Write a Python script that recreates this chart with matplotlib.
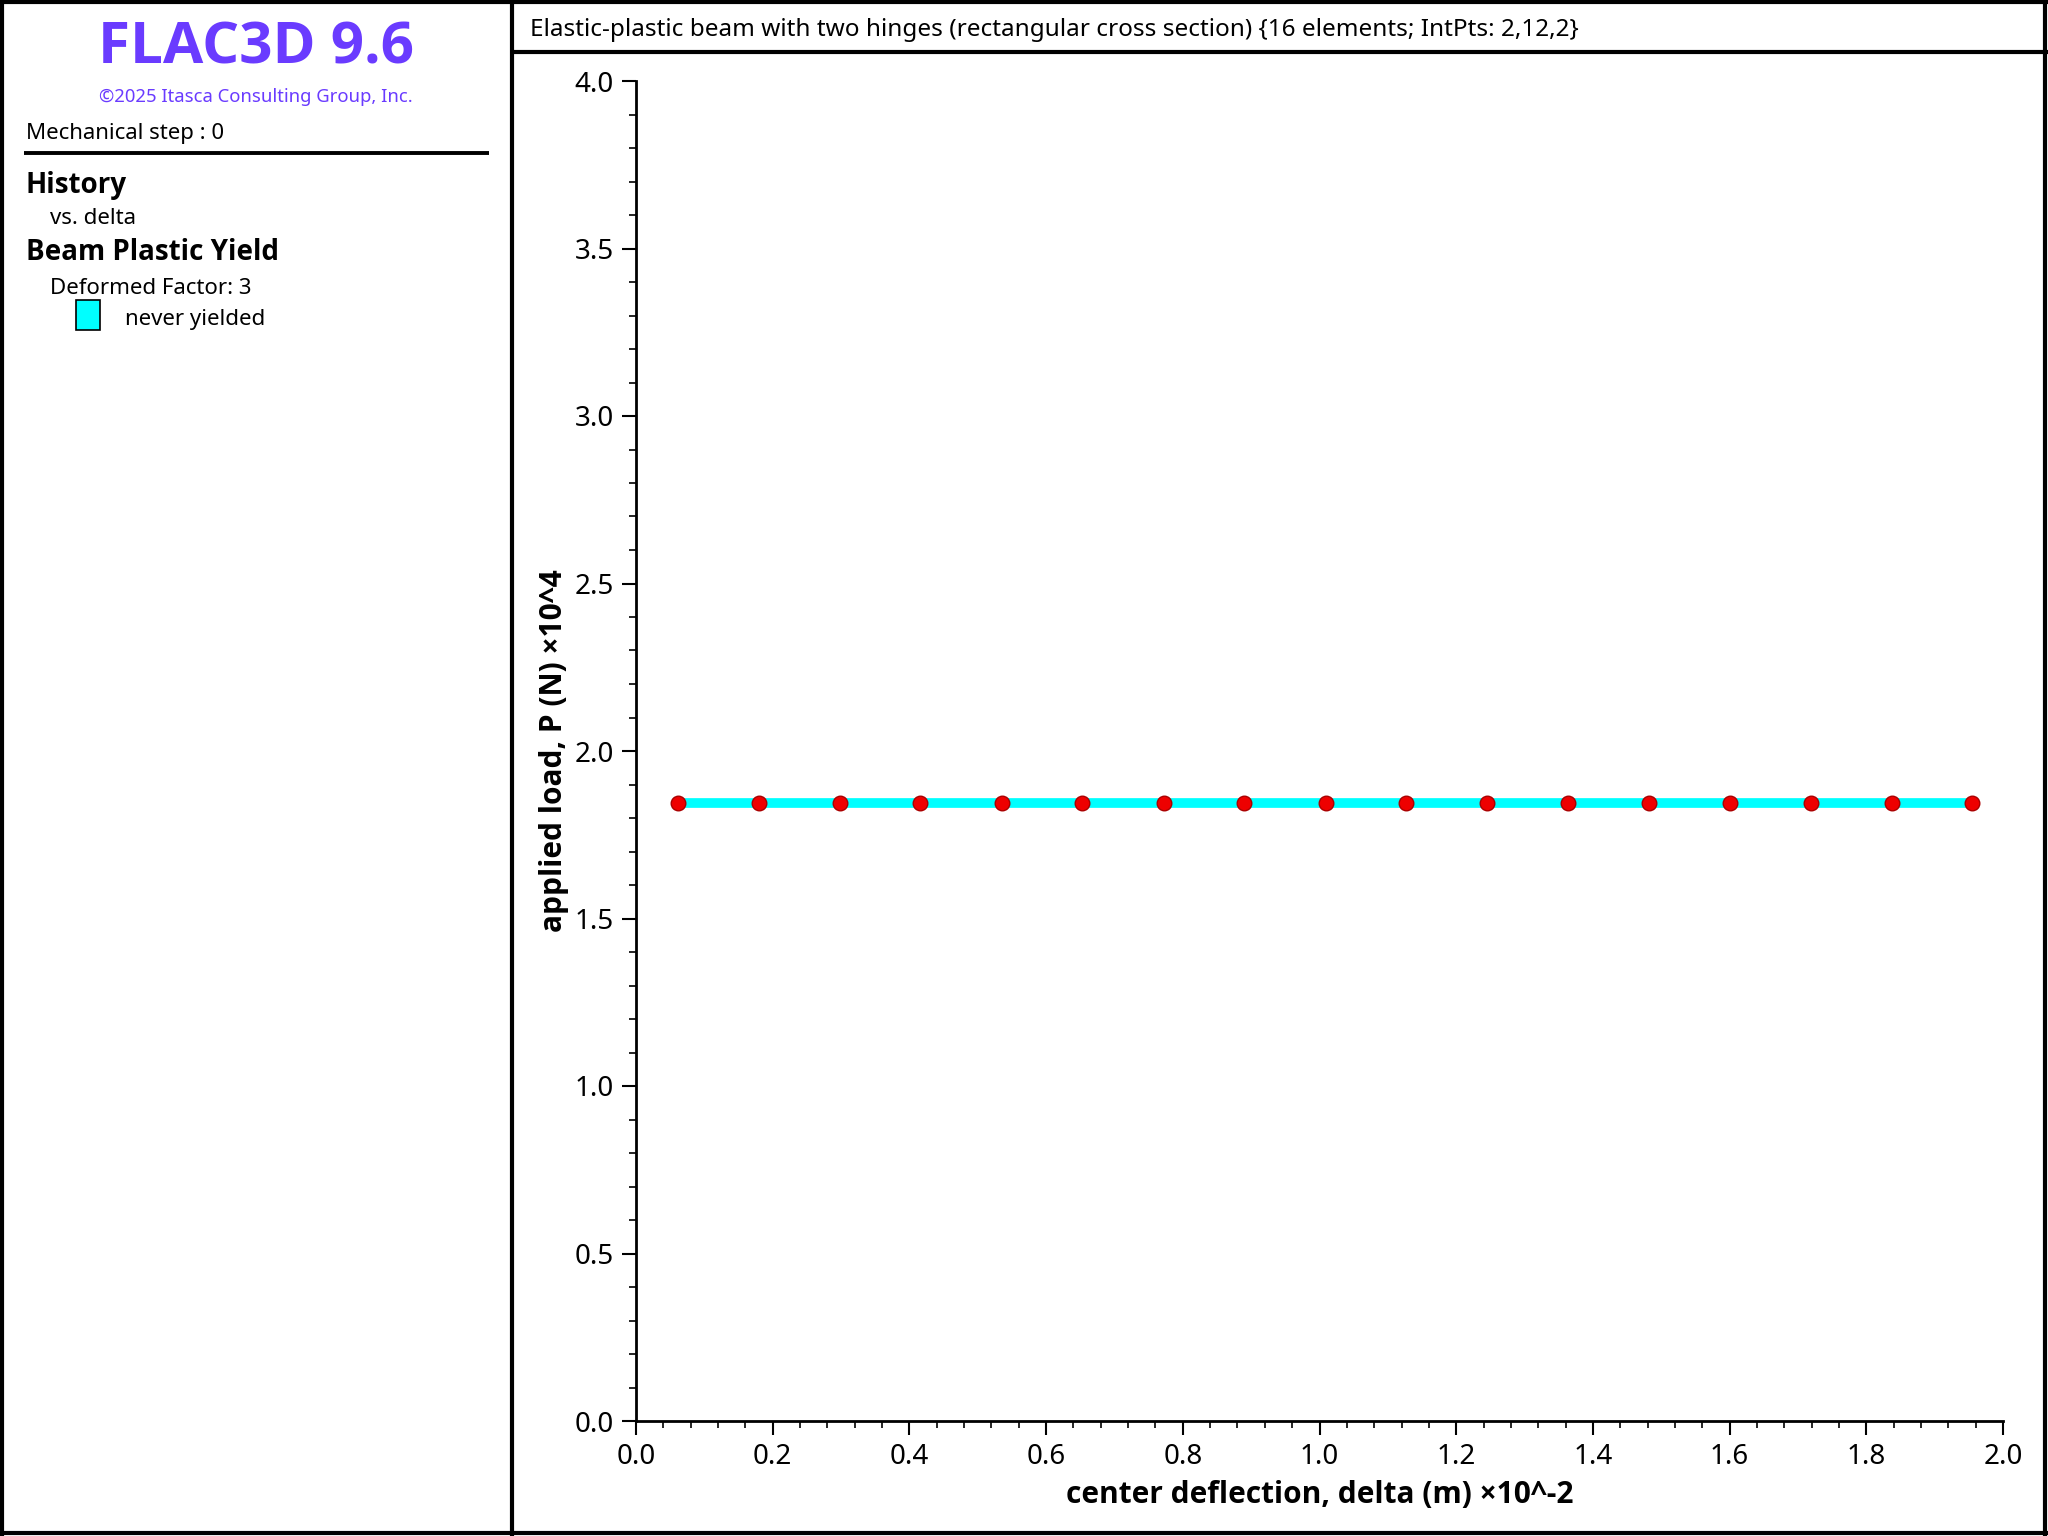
import matplotlib
matplotlib.use('Agg')
import matplotlib.pyplot as plt
from matplotlib.lines import Line2D
from matplotlib.patches import Rectangle
from matplotlib.ticker import MultipleLocator

plt.rcParams['font.family'] = ['Noto Sans', 'DejaVu Sans']
BOLD = ['Open Sans', 'Lato', 'DejaVu Sans']

# history: center deflection (x10^-2 m) vs applied load (x10^4 N)
delta = [0.061, 0.180, 0.298, 0.416, 0.535, 0.653, 0.772, 0.890, 1.009,
         1.127, 1.245, 1.364, 1.482, 1.600, 1.719, 1.837, 1.954]
load = [1.844, 1.844, 1.844, 1.844, 1.844, 1.844, 1.844, 1.844, 1.844,
        1.844, 1.844, 1.844, 1.844, 1.844, 1.844, 1.844, 1.844]

title = 'Elastic-plastic beam with two hinges (rectangular cross section) {16 elements; IntPts: 2,12,2}'
purple = '#6a3bff'

W, H = 2048, 1536
fig = plt.figure(figsize=(W / 100, H / 100), dpi=100)


def fx(px):
    return px / W


def fy(py):
    return 1 - py / H


def hline(x0, x1, y, lw=3):
    fig.add_artist(Line2D([fx(x0), fx(x1)], [fy(y), fy(y)], color='black',
                          lw=lw, transform=fig.transFigure, solid_capstyle='butt'))


def vline(x, y0, y1, lw=3):
    fig.add_artist(Line2D([fx(x), fx(x)], [fy(y0), fy(y1)], color='black',
                          lw=lw, transform=fig.transFigure, solid_capstyle='butt'))


# frame
hline(0, W, 2)
hline(0, W, 1533)
vline(2, 0, H)
vline(2045, 0, H)
vline(512, 0, H)
hline(512, W, 52)

# left panel
fig.text(fx(256), fy(48), 'FLAC3D 9.6', color=purple, fontsize=42,
         fontweight='bold', family=BOLD, ha='center', va='center')
fig.text(fx(256), fy(97), '\u00a92025 Itasca Consulting Group, Inc.', color=purple,
         fontsize=13.3, ha='center', va='center')
fig.text(fx(26), fy(134), 'Mechanical step : 0', fontsize=16, va='center')
hline(24, 489, 153, lw=2.8)
fig.text(fx(26), fy(185), 'History', fontsize=20, fontweight='bold',
         family=BOLD, va='center')
fig.text(fx(50), fy(218), 'vs. delta', fontsize=16, va='center')
fig.text(fx(26), fy(253), 'Beam Plastic Yield', fontsize=20, fontweight='bold',
         family=BOLD, va='center')
fig.text(fx(50), fy(288), 'Deformed Factor: 3', fontsize=16, va='center')
fig.add_artist(Rectangle((fx(76), fy(330)), fx(24), 30 / H, facecolor='#00ffff',
                         edgecolor='black', lw=1.2, transform=fig.transFigure))
fig.text(fx(125), fy(319), 'never yielded', fontsize=16, va='center')

fig.text(fx(530), fy(30), title, fontsize=17.5, va='center')

# plot
ax = fig.add_axes([fx(636), fy(1421), (2003 - 636) / W, (1421 - 81) / H])
ax.plot(delta, load, color='#00ffff', lw=7, zorder=2)
ax.plot(delta, load, 'o', color='#ee0000', markeredgecolor='#aa0000',
        markersize=10.5, zorder=3)

ax.set_xlim(0, 2.0)
ax.set_ylim(0, 4.0)
ax.xaxis.set_major_locator(MultipleLocator(0.2))
ax.xaxis.set_minor_locator(MultipleLocator(0.04))
ax.yaxis.set_major_locator(MultipleLocator(0.5))
ax.yaxis.set_minor_locator(MultipleLocator(0.1))
ax.xaxis.set_major_formatter(lambda v, p: f'{v:.1f}')
ax.yaxis.set_major_formatter(lambda v, p: f'{v:.1f}')

for s in ['top', 'right']:
    ax.spines[s].set_visible(False)
for s in ['left', 'bottom']:
    ax.spines[s].set_linewidth(2)

ax.tick_params(which='major', direction='out', length=10, width=1.5,
               labelsize=20, pad=6)
ax.tick_params(which='minor', direction='out', length=5, width=1.2)

ax.set_xlabel('center deflection, delta (m) \u00d710^-2', fontsize=21.5,
              fontweight='bold', family=BOLD, va='center')
ax.xaxis.set_label_coords(0.5, -0.055)
ax.set_ylabel('applied load, P (N) \u00d710^4', fontsize=21.5,
              fontweight='bold', family=BOLD, va='center')
ax.yaxis.set_label_coords(-0.060, 0.5)

fig.savefig('out.png', dpi=100)
